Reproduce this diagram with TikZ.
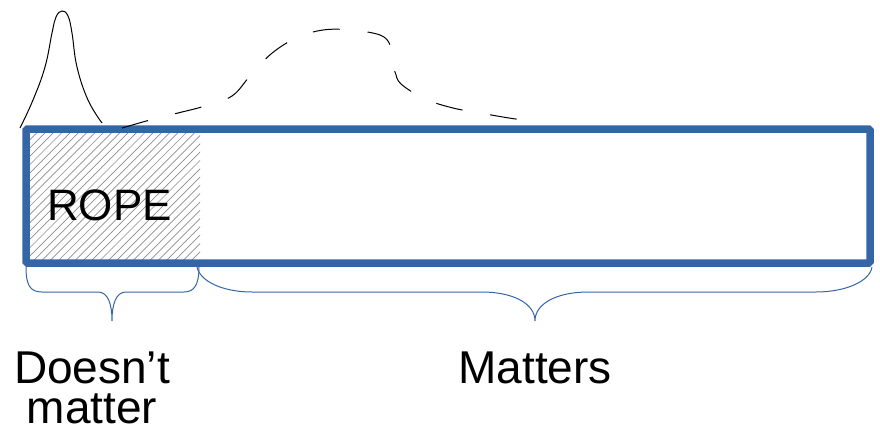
\documentclass[tikz,border=0pt]{standalone}
\usepackage{fontspec}
\setmainfont{Liberation Sans}
\definecolor{ropeblue}{RGB}{52,101,165}
\definecolor{hatchgray}{RGB}{140,140,140}
\begin{document}
\begin{tikzpicture}[x=1pt,y=-1pt,
  lbl/.style={font=\fontsize{46}{40}\selectfont, inner sep=0pt},
  bracestyle/.style={draw=ropeblue, line width=1pt},
  hatchln/.style={draw=hatchgray, line width=0.7pt},
  humpstyle/.style={draw=black, line width=1pt},
  dashcurve/.style={draw=black, line width=1pt, dash pattern=on 27pt off 28pt}]
\useasboundingbox (0,0) rectangle (880,428);
% hatching
\begin{scope}
  \clip (26,129) rectangle (200,263);
  \foreach \a in {-110,-101.7,...,205} \draw[hatchln] (\a,263) -- ++(134,-134);
\end{scope}
% main bar
\node[draw=ropeblue, line width=7.5pt, rounded corners=1.5pt, minimum width=844pt,
      minimum height=134pt, inner sep=0pt, outer sep=0pt, anchor=north west] (bar) at (26,129) {};
\node[lbl, font=\fontsize{44}{44}\selectfont, anchor=base west] (rope) at (47,220) {ROPE};
% solid hump
\draw[humpstyle] plot[smooth, tension=0.7] coordinates {(20,128) (33,100) (45,67) (52,33) (56,17) (62,11) (68,16) (72,33) (77,67) (88,100) (102,123)};
% dashed curve
\draw[dashcurve] plot[smooth, tension=0.6] coordinates {(122,128) (150,120) (178,113) (205,106) (232,96) (250,76) (271,54) (296,38) (323,30) (351,30) (380,35) (390,45) (389,58) (395,72) (401,84) (425,99) (453,108) (480,113) (509,118) (537,122)};
% braces
\coordinate (lcusp) at (112,321);
\coordinate (rcusp) at (535,321);
\draw[bracestyle] (26,267) .. controls (26,285) and (30,292) .. (42,292) -- (98,292)
  .. controls (108,292) and (112,304) .. (lcusp)
  .. controls (112,304) and (116,292) .. (126,292) -- (184,292)
  .. controls (194,292) and (199,285) .. (199,267);
\draw[bracestyle] (197,267) .. controls (200,281) and (222,292) .. (252,292) -- (482,292)
  .. controls (512,292) and (535,303) .. (rcusp)
  .. controls (535,303) and (558,292) .. (588,292) -- (816,292)
  .. controls (846,292) and (870,281) .. (872,267);
% labels
\node[lbl, anchor=base] (matters) at (535,383) {Matters};
\node[lbl, align=center, anchor=base] (dm) at (92,423) {Doesn’t\\matter};
\end{tikzpicture}
\end{document}
